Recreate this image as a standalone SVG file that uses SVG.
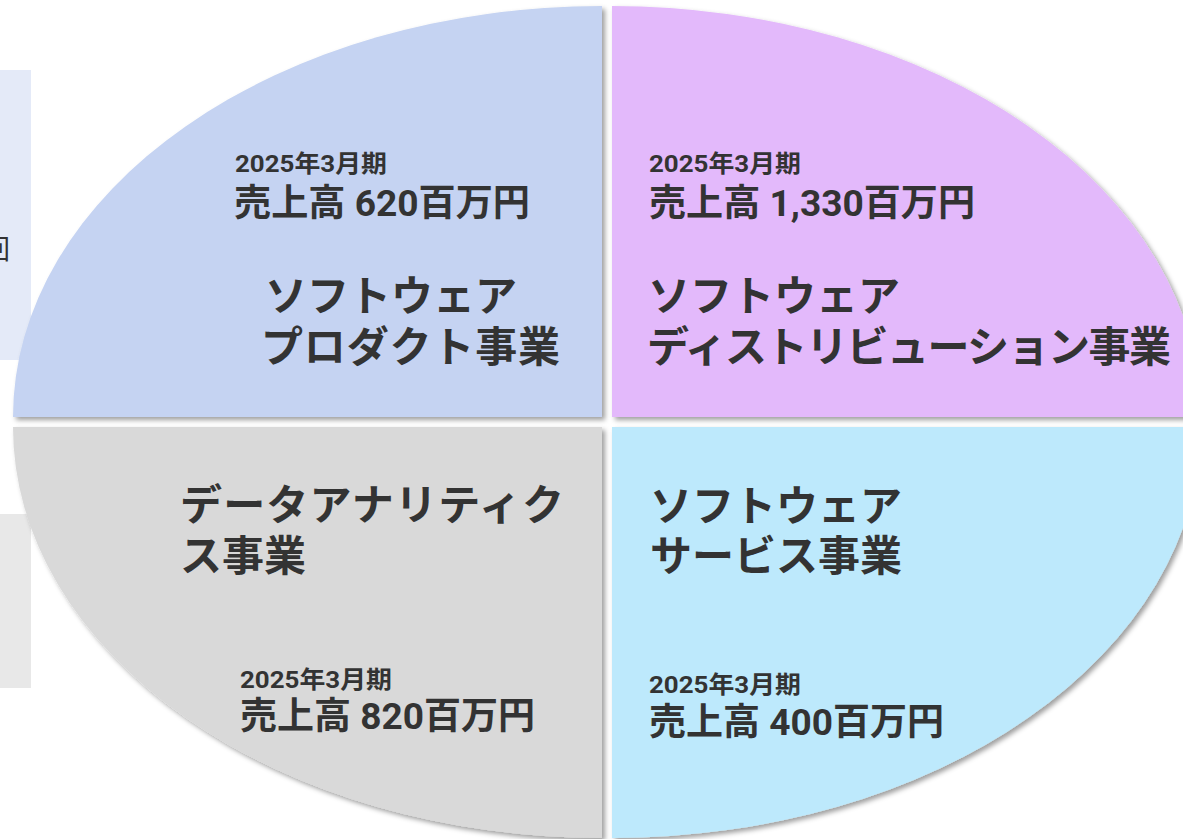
<svg xmlns="http://www.w3.org/2000/svg" width="1183" height="839" viewBox="0 0 1183 839">
<defs>
<filter id="sh" x="-5%" y="-5%" width="112%" height="112%">
<feDropShadow dx="3" dy="3" stdDeviation="2.5" flood-color="#000" flood-opacity="0.38"/>
</filter>
<style>
.t{font-family:Roboto,'Noto Sans CJK JP','Noto Sans CJK SC',sans-serif;font-weight:700;fill:#333333}
.s{font-size:24px}
.b{font-size:37px}
.k{font-size:42px;font-family:'Noto Sans CJK JP','Noto Sans CJK SC',sans-serif}
</style>
</defs>
<rect width="1183" height="839" fill="#ffffff"/>
<g id="side-boxes">
<rect x="-10" y="70" width="41" height="290" fill="#e4eaf8"/>
<rect x="-10" y="514" width="41" height="174" fill="#e8e8e8"/>
<text x="-17" y="259" font-family="'Noto Sans CJK JP',sans-serif" font-size="27" fill="#333333">回</text>
</g>
<g id="q-product">
<path d="M602,417 L13,417 A589,411 0 0 1 602,6 Z" fill="#c5d3f2" filter="url(#sh)"/>
<text class="t s" x="235" y="172" textLength="152" lengthAdjust="spacingAndGlyphs">2025年3月期</text>
<text class="t b" x="234" y="216" textLength="296" lengthAdjust="spacingAndGlyphs">売上高 620百万円</text>
<text class="t k" x="265" y="311">ソフトウェア</text>
<text class="t k" x="261" y="362" textLength="299" lengthAdjust="spacing">プロダクト事業</text>
</g>
<g id="q-distribution">
<path d="M612,417 L612,6 A589,411 0 0 1 1201,417 Z" fill="#e3b9fb" filter="url(#sh)"/>
<text class="t s" x="649" y="172" textLength="152" lengthAdjust="spacingAndGlyphs">2025年3月期</text>
<text class="t b" x="649" y="216" textLength="326" lengthAdjust="spacingAndGlyphs">売上高 1,330百万円</text>
<text class="t k" x="648" y="311">ソフトウェア</text>
<text class="t k" x="647" y="362" textLength="524" lengthAdjust="spacing">ディストリビューション事業</text>
</g>
<g id="q-analytics">
<path d="M602,427 L602,838 A589,411 0 0 1 13,427 Z" fill="#d9d9d9" filter="url(#sh)"/>
<text class="t k" x="180" y="520" textLength="384" lengthAdjust="spacing">データアナリティク</text>
<text class="t k" x="180" y="571">ス事業</text>
<text class="t s" x="240" y="688" textLength="152" lengthAdjust="spacingAndGlyphs">2025年3月期</text>
<text class="t b" x="240" y="729" textLength="295" lengthAdjust="spacingAndGlyphs">売上高 820百万円</text>
</g>
<g id="q-service">
<path d="M612,427 L1201,427 A589,411 0 0 1 612,838 Z" fill="#bde9fc" filter="url(#sh)"/>
<text class="t k" x="650" y="521">ソフトウェア</text>
<text class="t k" x="650" y="571">サービス事業</text>
<text class="t s" x="649" y="693" textLength="152" lengthAdjust="spacingAndGlyphs">2025年3月期</text>
<text class="t b" x="649" y="735" textLength="295" lengthAdjust="spacingAndGlyphs">売上高 400百万円</text>
</g>
<g id="connectors"></g>
</svg>
